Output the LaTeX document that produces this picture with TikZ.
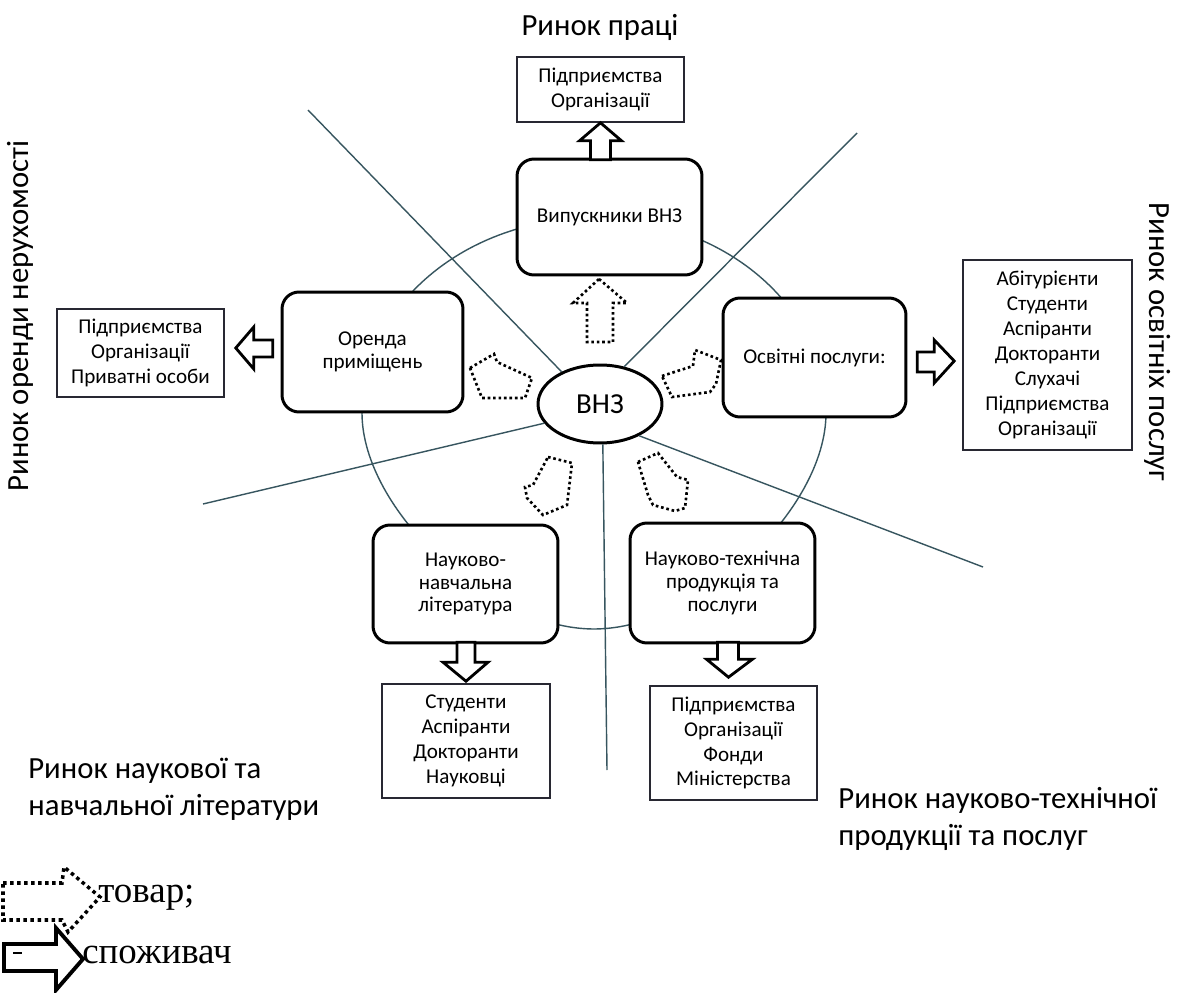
\documentclass[tikz,border=0pt]{standalone}
\usepackage{fontspec}
\setmainfont{Carlito}
\newfontfamily\legendfont{Liberation Serif}
\usetikzlibrary{calc,shapes.geometric}

\definecolor{ringcol}{RGB}{55,85,95}
\definecolor{boxcol}{RGB}{40,40,50}

\begin{document}
\begin{tikzpicture}[x=0.02cm, y=-0.02cm,
    unit/.style={draw=black, fill=white, line width=1.7pt, rounded corners=0.34cm, inner sep=0pt,
                 align=center, font=\fontsize{12}{13}\selectfont},
    group/.style={draw=boxcol, fill=white, line width=0.9pt, inner sep=0pt,
                  align=center, font=\fontsize{12}{14.2}\selectfont},
    % -- consumer arrows (hollow) --
    consarrow/.style={draw=black, fill=white, line width=1.6pt, line join=miter},
    % -- goods arrows (dotted) --
    goodsarrow/.style={draw=black, line width=1.5pt, dash pattern=on 1.5pt off 1.6pt},
    sector/.style={draw=ringcol, line width=0.8pt},
    market/.style={inner sep=0pt, font=\fontsize{17.5}{21}\selectfont},
]

\fill[white] (0,0) rectangle (1177,993);
\useasboundingbox (0,0) rectangle (1177,993);

% ══════════════════════════════════════
% centre: ВНЗ, ring and sector lines
% ══════════════════════════════════════
\node[ellipse, draw, fill=white, line width=1.7pt, minimum width=2.48cm, minimum height=1.56cm,
      inner sep=0pt, font=\fontsize{16.5}{18}\selectfont] (vnz) at (600,404) {ВНЗ};

\draw[sector] (362,413) arc[start angle=180, end angle=360, x radius=232, y radius=195]
    .. controls (826,510) and (698,629) .. (594,629)
    .. controls (490,629) and (362,510) .. (362,413);

\coordinate (ulend) at (308,110);
\coordinate (urend) at (857,133);
\coordinate (lend)  at (203,504);
\coordinate (dend)  at (607,770);
\coordinate (lrend) at (983,567);
\draw[sector] (vnz.140) -- (ulend);
\draw[sector] (vnz.57)  -- (urend);
\draw[sector] (vnz.199) -- (lend);
\draw[sector] (vnz.274) -- (dend);
\draw[sector] (vnz.321) -- (lrend);

% ══════════════════════════════════════
% products (rounded) and consumers (plain)
% ══════════════════════════════════════
\node[group, minimum width=3.34cm, minimum height=1.3cm] (emp) at (600.5,89.5) {Підприємства\\Організації};
\node[unit, minimum width=3.7cm, minimum height=2.32cm] (grads) at (609.5,217) {Випускники ВНЗ};

\node[unit, minimum width=3.62cm, minimum height=2.4cm] (rent) at (372.5,352) {Оренда\\приміщень};
\node[group, minimum width=3.34cm, minimum height=1.76cm] (tenants) at (140.5,353) {Підприємства\\Організації\\Приватні особи};

\node[unit, minimum width=3.66cm, minimum height=2.38cm] (edu) at (814.5,357.5) {Освітні послуги:};
\node[group, minimum width=3.38cm, minimum height=3.8cm] (learners) at (1047.5,355)
    {Абітурієнти\\Студенти\\Аспіранти\\Докторанти\\Слухачі\\Підприємства\\Організації};

\node[unit, minimum width=3.7cm, minimum height=2.36cm] (lit) at (465.5,584) {Науково-\\навчальна\\література};
\node[group, minimum width=3.36cm, minimum height=2.28cm] (readers) at (466,741) {Студенти\\Аспіранти\\Докторанти\\Науковці};

\node[unit, minimum width=3.7cm, minimum height=2.4cm] (tech) at (722.5,583) {Науково-технічна\\продукція та\\послуги};
\node[group, minimum width=3.34cm, minimum height=2.28cm] (clients) at (733.5,743) {Підприємства\\Організації\\Фонди\\Міністерства};

% consumer arrows
\draw[consarrow] (emp.south) -- ++(21,18) -- ++(-11,0) -- ++(0,19) -- ++(-20,0) -- ++(0,-19) -- ++(-11,0) -- cycle;
\draw[consarrow] ($(tenants.east)+(11,-5)$) -- ++(18,-21) -- ++(0,13) -- ++(19,0) -- ++(0,17) -- ++(-19,0) -- ++(0,12) -- cycle;
\draw[consarrow] ($(learners.west)+(-8,6)$) -- ++(-20,-21) -- ++(0,12) -- ++(-17,0) -- ++(0,20) -- ++(17,0) -- ++(0,11) -- cycle;
\draw[consarrow] ($(readers.north)+(0,-2)$) -- ++(22,-19) -- ++(-13,0) -- ++(0,-20) -- ++(-18,0) -- ++(0,20) -- ++(-14,0) -- cycle;
\draw[consarrow] ($(clients.north)+(-5,-8)$) -- ++(24,-18) -- ++(-14,0) -- ++(0,-17) -- ++(-21,0) -- ++(0,17) -- ++(-11,0) -- cycle;

% goods arrows
\draw[goodsarrow] (599,279) -- (627,303) -- (613,303) -- (613,342) -- (587,342) -- (587,303) -- (573,303) -- cycle;
\draw[goodsarrow] (470,368) -- (494,354) -- (497,362) -- (532,378) -- (525,398) -- (482,398) -- cycle;
\draw[goodsarrow] (662,376) -- (693,366) -- (695,350) -- (721,360) -- (716,384) -- (710,392) -- (672,397) -- cycle;
\draw[goodsarrow] (548,457) -- (572,463) -- (567,505) -- (543,515) -- (527,498) -- (525,487) -- (533,485) -- cycle;
\draw[goodsarrow] (638,462) -- (658,453) -- (677,477) -- (688,480) -- (685,508) -- (675,511) -- (653,505) -- (648,495) -- cycle;

% ══════════════════════════════════════
% market names
% ══════════════════════════════════════
\node[market] (mlabour) at (600,27) {Ринок праці};
\node[market, rotate=90] (mrent) at (20,316) {Ринок оренди нерухомості};
\node[market, rotate=-90] (medu) at (1158,342) {Ринок освітніх послуг};
\node[market, align=left, anchor=west] (mlit) at (28,789) {Ринок наукової та\\навчальної літератури};
\node[market, align=left, anchor=west] (mtech) at (838,819) {Ринок науково-технічної\\продукції та послуг};

% ══════════════════════════════════════
% legend
% ══════════════════════════════════════
\draw[goodsarrow, line width=2pt, dash pattern=on 2pt off 2pt] (3,883) -- (62,883) -- (64,867) -- (100,897) -- (68,932) -- (62,920) -- (3,920) -- cycle;
\node[anchor=base west, inner sep=0pt, font=\legendfont\fontsize{21}{24}\selectfont] (lgoods) at (98,902) {товар;};
\draw[consarrow, line width=2.2pt] (4,944) -- (56,944) -- (56,928) -- (83,959) -- (56,990) -- (56,971) -- (4,971) -- cycle;
\draw[line width=0.8pt] (13,953) -- (22,953);
\node[anchor=base west, inner sep=0pt, font=\legendfont\fontsize{21}{24}\selectfont] (lcons) at (82,963) {споживач};

\end{tikzpicture}
\end{document}
